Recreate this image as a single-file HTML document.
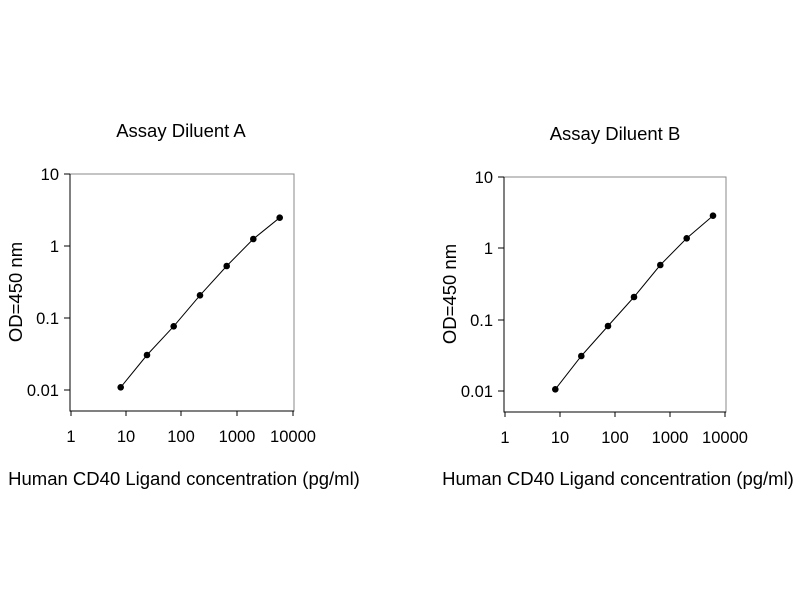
<!DOCTYPE html>
<html><head><style>body{margin:0;background:#fff}svg text{font-family:"Liberation Sans",Arial,sans-serif;fill:#000}</style></head>
<body>
<svg width="800" height="600" viewBox="0 0 800 600" xmlns="http://www.w3.org/2000/svg">
<g stroke="#000" fill="none" stroke-width="1">
<path d="M70 174H294V411H70Z" stroke="#888"/>
<path d="M70 174V411H294" />
<path d="M64 174H70M64 246H70M64 318H70M64 390H70"/>
<path d="M71 411V416M126 411V416M181 411V416M237 411V416M293 411V416"/>
<polyline points="120.7,387.3 147,355 173.7,326.3 200,295.3 226.7,266 253.3,239 279.7,217.7"/>
<path d="M504 177H726V412H504Z" stroke="#888"/>
<path d="M504 177V412H726"/>
<path d="M498 177H504M498 248H504M498 320H504M498 391H504"/>
<path d="M505 412V417M560 412V417M615 412V417M670 412V417M725 412V417"/>
<polyline points="555.3,389.3 581.3,356 608,326 634,297 660.3,265 686.7,238.3 713,215.7"/>
</g>
<g fill="#000">
<circle cx="120.7" cy="387.3" r="3.3"/><circle cx="147" cy="355" r="3.3"/><circle cx="173.7" cy="326.3" r="3.3"/><circle cx="200" cy="295.3" r="3.3"/><circle cx="226.7" cy="266" r="3.3"/><circle cx="253.3" cy="239" r="3.3"/><circle cx="279.7" cy="217.7" r="3.3"/>
<circle cx="555.3" cy="389.3" r="3.3"/><circle cx="581.3" cy="356" r="3.3"/><circle cx="608" cy="326" r="3.3"/><circle cx="634" cy="297" r="3.3"/><circle cx="660.3" cy="265" r="3.3"/><circle cx="686.7" cy="238.3" r="3.3"/><circle cx="713" cy="215.7" r="3.3"/>
</g>
<g font-size="16.5" text-anchor="end">
<text x="59" y="180">10</text><text x="59" y="252">1</text><text x="59" y="324">0.1</text><text x="59" y="396">0.01</text>
<text x="493" y="183">10</text><text x="493" y="254">1</text><text x="493" y="326">0.1</text><text x="493" y="397">0.01</text>
</g>
<g font-size="16.5" text-anchor="middle">
<text x="71" y="442">1</text><text x="126" y="442">10</text><text x="181" y="442">100</text><text x="237" y="442">1000</text><text x="293" y="442">10000</text>
<text x="505" y="443">1</text><text x="560" y="443">10</text><text x="615" y="443">100</text><text x="670" y="443">1000</text><text x="725" y="443">10000</text>
</g>
<g font-size="18.5" text-anchor="middle">
<text x="181" y="137">Assay Diluent A</text>
<text x="615" y="140">Assay Diluent B</text>
<text x="184" y="485">Human CD40 Ligand concentration (pg/ml)</text>
<text x="618" y="485">Human CD40 Ligand concentration (pg/ml)</text>
<text transform="translate(22,292) rotate(-90)">OD=450 nm</text>
<text transform="translate(456,294) rotate(-90)">OD=450 nm</text>
</g>
</svg>
</body></html>
